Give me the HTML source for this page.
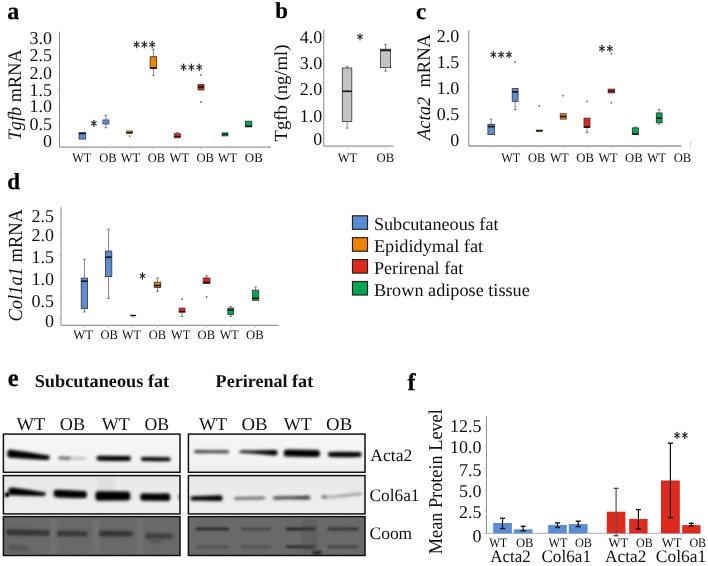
<!DOCTYPE html>
<html><head><meta charset="utf-8"><style>
html,body{margin:0;padding:0;background:#fff;}
svg{display:block;will-change:transform;}
text{font-family:"Liberation Serif",serif;text-rendering:geometricPrecision;}
</style></head><body>
<svg width="708" height="566" viewBox="0 0 708 566">
<defs>
<filter id="bl1" x="-20%" y="-100%" width="140%" height="300%"><feGaussianBlur stdDeviation="1.5"/></filter>
<filter id="bl2" x="-20%" y="-100%" width="140%" height="300%"><feGaussianBlur stdDeviation="0.9"/></filter>
<filter id="noise" x="0" y="0" width="100%" height="100%">
 <feTurbulence type="fractalNoise" baseFrequency="0.35 0.08" numOctaves="2" seed="3" result="n"/>
 <feColorMatrix type="matrix" values="0 0 0 0 0  0 0 0 0 0  0 0 0 0 0  0 0 0 0.22 0" in="n" result="n2"/>
 <feComposite in="n2" in2="SourceGraphic" operator="in"/>
</filter>
</defs>
<rect x="0" y="0" width="708" height="566" fill="#fff"/>

<text x="7.2" y="18.6" font-size="24" font-weight="bold" fill="#000" stroke="#000" stroke-width="0.25">a</text>
<text x="275.2" y="18.4" font-size="22.8" font-weight="bold" fill="#000" stroke="#000" stroke-width="0.25">b</text>
<text x="415.9" y="18.6" font-size="23" font-weight="bold" fill="#000" stroke="#000" stroke-width="0.25">c</text>
<text x="7.3" y="188.7" font-size="23" font-weight="bold" fill="#000" stroke="#000" stroke-width="0.25">d</text>
<text x="7.7" y="386.3" font-size="24.5" font-weight="bold" fill="#000" stroke="#000" stroke-width="0.25">e</text>
<text x="407.4" y="389.5" font-size="24" font-weight="bold" fill="#000" stroke="#000" stroke-width="0.25">f</text>
<line x1="59.5" y1="31.7" x2="59.5" y2="147.2" stroke="#8a8a8a" stroke-width="1"/>
<line x1="59.5" y1="147.2" x2="271" y2="147.2" stroke="#999" stroke-width="1.3"/>
<line x1="82" y1="147.2" x2="82" y2="149.5" stroke="#bbb" stroke-width="0.8"/>
<line x1="105.7" y1="147.2" x2="105.7" y2="149.5" stroke="#bbb" stroke-width="0.8"/>
<line x1="129.4" y1="147.2" x2="129.4" y2="149.5" stroke="#bbb" stroke-width="0.8"/>
<line x1="153.1" y1="147.2" x2="153.1" y2="149.5" stroke="#bbb" stroke-width="0.8"/>
<line x1="176.8" y1="147.2" x2="176.8" y2="149.5" stroke="#bbb" stroke-width="0.8"/>
<line x1="200.5" y1="147.2" x2="200.5" y2="149.5" stroke="#bbb" stroke-width="0.8"/>
<line x1="224.2" y1="147.2" x2="224.2" y2="149.5" stroke="#bbb" stroke-width="0.8"/>
<line x1="247.9" y1="147.2" x2="247.9" y2="149.5" stroke="#bbb" stroke-width="0.8"/>
<line x1="57.5" y1="38.8" x2="59.5" y2="38.8" stroke="#bbb" stroke-width="0.8"/>
<line x1="57.5" y1="55.7" x2="59.5" y2="55.7" stroke="#bbb" stroke-width="0.8"/>
<line x1="57.5" y1="72.6" x2="59.5" y2="72.6" stroke="#bbb" stroke-width="0.8"/>
<line x1="57.5" y1="89.5" x2="59.5" y2="89.5" stroke="#bbb" stroke-width="0.8"/>
<line x1="57.5" y1="106.4" x2="59.5" y2="106.4" stroke="#bbb" stroke-width="0.8"/>
<line x1="57.5" y1="123.3" x2="59.5" y2="123.3" stroke="#bbb" stroke-width="0.8"/>
<line x1="57.5" y1="140.2" x2="59.5" y2="140.2" stroke="#bbb" stroke-width="0.8"/>
<text x="52.0" y="44.4" font-size="18" text-anchor="end" font-weight="normal" font-style="normal" fill="#111" >3.0</text>
<text x="52.0" y="61.0" font-size="18" text-anchor="end" font-weight="normal" font-style="normal" fill="#111" >2.5</text>
<text x="52.0" y="79.2" font-size="18" text-anchor="end" font-weight="normal" font-style="normal" fill="#111" >2.0</text>
<text x="52.0" y="96.4" font-size="18" text-anchor="end" font-weight="normal" font-style="normal" fill="#111" >1.5</text>
<text x="52.0" y="112.4" font-size="18" text-anchor="end" font-weight="normal" font-style="normal" fill="#111" >1.0</text>
<text x="52.0" y="129.5" font-size="18" text-anchor="end" font-weight="normal" font-style="normal" fill="#111" >0.5</text>
<text x="52.0" y="147.0" font-size="18" text-anchor="end" font-weight="normal" font-style="normal" fill="#111" >0</text>
<text x="72.2" y="161.6" font-size="13" text-anchor="start" font-weight="normal" font-style="normal" fill="#111" textLength="19.0" lengthAdjust="spacingAndGlyphs" >WT</text>
<text x="99.2" y="161.6" font-size="13" text-anchor="start" font-weight="normal" font-style="normal" fill="#111" textLength="17.4" lengthAdjust="spacingAndGlyphs" >OB</text>
<text x="120.8" y="161.6" font-size="13" text-anchor="start" font-weight="normal" font-style="normal" fill="#111" textLength="19.3" lengthAdjust="spacingAndGlyphs" >WT</text>
<text x="147.8" y="161.6" font-size="13" text-anchor="start" font-weight="normal" font-style="normal" fill="#111" textLength="17.3" lengthAdjust="spacingAndGlyphs" >OB</text>
<text x="169.6" y="161.6" font-size="13" text-anchor="start" font-weight="normal" font-style="normal" fill="#111" textLength="19.5" lengthAdjust="spacingAndGlyphs" >WT</text>
<text x="196.5" y="161.6" font-size="13" text-anchor="start" font-weight="normal" font-style="normal" fill="#111" textLength="17.5" lengthAdjust="spacingAndGlyphs" >OB</text>
<text x="217.9" y="161.6" font-size="13" text-anchor="start" font-weight="normal" font-style="normal" fill="#111" textLength="19.1" lengthAdjust="spacingAndGlyphs" >WT</text>
<text x="244.8" y="161.6" font-size="13" text-anchor="start" font-weight="normal" font-style="normal" fill="#111" textLength="18.0" lengthAdjust="spacingAndGlyphs" >OB</text>
<g transform="translate(21.4,140.3) rotate(-90)"><text x="0" y="0" font-size="19" fill="#111" textLength="91" lengthAdjust="spacingAndGlyphs"><tspan font-style="italic">Tgfb</tspan> mRNA</text></g>
<rect x="79.0" y="132.8" width="6.7" height="6.3" fill="#5b8dd4" stroke="#333" stroke-width="0.8" />
<line x1="79" y1="133.4" x2="85.7" y2="133.4" stroke="#111" stroke-width="1.6"/>
<line x1="105.9" y1="115.2" x2="105.9" y2="119.9" stroke="#666" stroke-width="0.8"/>
<line x1="104.4" y1="115.2" x2="107.4" y2="115.2" stroke="#666" stroke-width="0.8"/>
<line x1="105.9" y1="124.1" x2="105.9" y2="127.7" stroke="#666" stroke-width="0.8"/>
<line x1="104.4" y1="127.7" x2="107.4" y2="127.7" stroke="#666" stroke-width="0.8"/>
<rect x="102.8" y="119.9" width="6.2" height="4.2" fill="#5b8dd4" stroke="#333" stroke-width="0.6" />
<rect x="126.6" y="130.9" width="6.0" height="2.5" fill="#f08200" stroke="#333" stroke-width="0.6" />
<line x1="126.6" y1="132.6" x2="132.6" y2="132.6" stroke="#111" stroke-width="1.2"/>
<circle cx="129.6" cy="136.1" r="0.9" fill="#666"/>
<line x1="153.39999999999998" y1="49.3" x2="153.39999999999998" y2="56.7" stroke="#666" stroke-width="0.8"/>
<line x1="151.89999999999998" y1="49.3" x2="154.89999999999998" y2="49.3" stroke="#666" stroke-width="0.8"/>
<line x1="153.39999999999998" y1="68.5" x2="153.39999999999998" y2="75.6" stroke="#666" stroke-width="0.8"/>
<line x1="151.89999999999998" y1="75.6" x2="154.89999999999998" y2="75.6" stroke="#666" stroke-width="0.8"/>
<rect x="150.1" y="56.7" width="6.6" height="11.8" fill="#f08200" stroke="#333" stroke-width="0.8" />
<line x1="150.1" y1="68.0" x2="156.7" y2="68.0" stroke="#111" stroke-width="1.6"/>
<line x1="177.3" y1="132.3" x2="177.3" y2="133.6" stroke="#666" stroke-width="0.8"/>
<line x1="175.8" y1="132.3" x2="178.8" y2="132.3" stroke="#666" stroke-width="0.8"/>
<rect x="174.1" y="133.6" width="6.4" height="4.3" fill="#de2a1e" stroke="#333" stroke-width="0.6" />
<line x1="174.1" y1="136.5" x2="180.5" y2="136.5" stroke="#111" stroke-width="1.2"/>
<rect x="198.0" y="84.4" width="6.0" height="5.6" fill="#de2a1e" stroke="#333" stroke-width="0.8" />
<line x1="198" y1="87" x2="204" y2="87" stroke="#111" stroke-width="1.6"/>
<circle cx="201.0" cy="74.9" r="0.9" fill="#666"/>
<circle cx="201.0" cy="102.0" r="0.9" fill="#666"/>
<rect x="222.0" y="132.8" width="6.0" height="3.2" fill="#00a650" stroke="#333" stroke-width="0.6" />
<line x1="222" y1="134.4" x2="228" y2="134.4" stroke="#111" stroke-width="1.2"/>
<rect x="245.5" y="121.2" width="6.3" height="5.6" fill="#00a650" stroke="#333" stroke-width="0.8" />
<line x1="245.5" y1="126.3" x2="251.8" y2="126.3" stroke="#111" stroke-width="1.6"/>
<line x1="93.90" y1="120.27" x2="93.90" y2="126.53" stroke="#2a2a2a" stroke-width="1.15" stroke-linecap="round"/>
<line x1="91.54" y1="121.84" x2="96.26" y2="124.96" stroke="#2a2a2a" stroke-width="1.15" stroke-linecap="round"/>
<line x1="96.26" y1="121.84" x2="91.54" y2="124.96" stroke="#2a2a2a" stroke-width="1.15" stroke-linecap="round"/>
<line x1="136.60" y1="41.37" x2="136.60" y2="47.63" stroke="#2a2a2a" stroke-width="1.15" stroke-linecap="round"/>
<line x1="134.24" y1="42.94" x2="138.96" y2="46.06" stroke="#2a2a2a" stroke-width="1.15" stroke-linecap="round"/>
<line x1="138.96" y1="42.94" x2="134.24" y2="46.06" stroke="#2a2a2a" stroke-width="1.15" stroke-linecap="round"/>
<line x1="144.40" y1="41.37" x2="144.40" y2="47.63" stroke="#2a2a2a" stroke-width="1.15" stroke-linecap="round"/>
<line x1="142.04" y1="42.94" x2="146.76" y2="46.06" stroke="#2a2a2a" stroke-width="1.15" stroke-linecap="round"/>
<line x1="146.76" y1="42.94" x2="142.04" y2="46.06" stroke="#2a2a2a" stroke-width="1.15" stroke-linecap="round"/>
<line x1="152.20" y1="41.37" x2="152.20" y2="47.63" stroke="#2a2a2a" stroke-width="1.15" stroke-linecap="round"/>
<line x1="149.84" y1="42.94" x2="154.56" y2="46.06" stroke="#2a2a2a" stroke-width="1.15" stroke-linecap="round"/>
<line x1="154.56" y1="42.94" x2="149.84" y2="46.06" stroke="#2a2a2a" stroke-width="1.15" stroke-linecap="round"/>
<line x1="183.60" y1="64.17" x2="183.60" y2="70.43" stroke="#2a2a2a" stroke-width="1.15" stroke-linecap="round"/>
<line x1="181.24" y1="65.74" x2="185.96" y2="68.86" stroke="#2a2a2a" stroke-width="1.15" stroke-linecap="round"/>
<line x1="185.96" y1="65.74" x2="181.24" y2="68.86" stroke="#2a2a2a" stroke-width="1.15" stroke-linecap="round"/>
<line x1="191.40" y1="64.17" x2="191.40" y2="70.43" stroke="#2a2a2a" stroke-width="1.15" stroke-linecap="round"/>
<line x1="189.04" y1="65.74" x2="193.76" y2="68.86" stroke="#2a2a2a" stroke-width="1.15" stroke-linecap="round"/>
<line x1="193.76" y1="65.74" x2="189.04" y2="68.86" stroke="#2a2a2a" stroke-width="1.15" stroke-linecap="round"/>
<line x1="199.20" y1="64.17" x2="199.20" y2="70.43" stroke="#2a2a2a" stroke-width="1.15" stroke-linecap="round"/>
<line x1="196.84" y1="65.74" x2="201.56" y2="68.86" stroke="#2a2a2a" stroke-width="1.15" stroke-linecap="round"/>
<line x1="201.56" y1="65.74" x2="196.84" y2="68.86" stroke="#2a2a2a" stroke-width="1.15" stroke-linecap="round"/>
<line x1="323.8" y1="29.4" x2="323.8" y2="146.2" stroke="#8a8a8a" stroke-width="1"/>
<line x1="323.8" y1="146.2" x2="393.7" y2="146.2" stroke="#999" stroke-width="1.3"/>
<line x1="347.3" y1="146.2" x2="347.3" y2="148.5" stroke="#bbb" stroke-width="0.8"/>
<line x1="385.3" y1="146.2" x2="385.3" y2="148.5" stroke="#bbb" stroke-width="0.8"/>
<text x="322.2" y="42.6" font-size="18" text-anchor="end" font-weight="normal" font-style="normal" fill="#111" >4.0</text>
<text x="322.2" y="69.2" font-size="18" text-anchor="end" font-weight="normal" font-style="normal" fill="#111" >3.0</text>
<text x="322.2" y="95.2" font-size="18" text-anchor="end" font-weight="normal" font-style="normal" fill="#111" >2.0</text>
<text x="322.2" y="122.3" font-size="18" text-anchor="end" font-weight="normal" font-style="normal" fill="#111" >1.0</text>
<text x="322.2" y="145.2" font-size="18" text-anchor="end" font-weight="normal" font-style="normal" fill="#111" >0</text>
<text x="337.7" y="161.8" font-size="13" text-anchor="start" font-weight="normal" font-style="normal" fill="#111" textLength="19.3" lengthAdjust="spacingAndGlyphs" >WT</text>
<text x="376.5" y="161.8" font-size="13" text-anchor="start" font-weight="normal" font-style="normal" fill="#111" textLength="17.7" lengthAdjust="spacingAndGlyphs" >OB</text>
<g transform="translate(287.2,141.5) rotate(-90)"><text x="0" y="0" font-size="18.5" fill="#111" textLength="97" lengthAdjust="spacingAndGlyphs">Tgfb (ng/ml)</text></g>
<line x1="347.05" y1="66.3" x2="347.05" y2="68" stroke="#666" stroke-width="0.8"/>
<line x1="345.55" y1="66.3" x2="348.55" y2="66.3" stroke="#666" stroke-width="0.8"/>
<line x1="347.05" y1="121.4" x2="347.05" y2="128.1" stroke="#666" stroke-width="0.8"/>
<line x1="345.55" y1="128.1" x2="348.55" y2="128.1" stroke="#666" stroke-width="0.8"/>
<rect x="342.3" y="68.0" width="9.5" height="53.4" fill="#c4c4c4" stroke="#333" stroke-width="0.8" />
<line x1="342.3" y1="91.3" x2="351.8" y2="91.3" stroke="#111" stroke-width="1.6"/>
<line x1="385.55" y1="44.3" x2="385.55" y2="49.2" stroke="#666" stroke-width="0.8"/>
<line x1="384.05" y1="44.3" x2="387.05" y2="44.3" stroke="#666" stroke-width="0.8"/>
<line x1="385.55" y1="67.6" x2="385.55" y2="71.1" stroke="#666" stroke-width="0.8"/>
<line x1="384.05" y1="71.1" x2="387.05" y2="71.1" stroke="#666" stroke-width="0.8"/>
<rect x="380.5" y="49.2" width="10.1" height="18.4" fill="#c4c4c4" stroke="#333" stroke-width="0.8" />
<line x1="380.5" y1="50.4" x2="390.6" y2="50.4" stroke="#111" stroke-width="1.6"/>
<line x1="360.00" y1="33.67" x2="360.00" y2="39.93" stroke="#2a2a2a" stroke-width="1.15" stroke-linecap="round"/>
<line x1="357.64" y1="35.24" x2="362.36" y2="38.36" stroke="#2a2a2a" stroke-width="1.15" stroke-linecap="round"/>
<line x1="362.36" y1="35.24" x2="357.64" y2="38.36" stroke="#2a2a2a" stroke-width="1.15" stroke-linecap="round"/>
<line x1="468.8" y1="30" x2="468.8" y2="146" stroke="#8a8a8a" stroke-width="1"/>
<line x1="468.8" y1="146" x2="681.4" y2="146" stroke="#999" stroke-width="1.3"/>
<line x1="491" y1="146" x2="491" y2="148.3" stroke="#bbb" stroke-width="0.8"/>
<line x1="515" y1="146" x2="515" y2="148.3" stroke="#bbb" stroke-width="0.8"/>
<line x1="539" y1="146" x2="539" y2="148.3" stroke="#bbb" stroke-width="0.8"/>
<line x1="563.1" y1="146" x2="563.1" y2="148.3" stroke="#bbb" stroke-width="0.8"/>
<line x1="587.1" y1="146" x2="587.1" y2="148.3" stroke="#bbb" stroke-width="0.8"/>
<line x1="611.1" y1="146" x2="611.1" y2="148.3" stroke="#bbb" stroke-width="0.8"/>
<line x1="634.9" y1="146" x2="634.9" y2="148.3" stroke="#bbb" stroke-width="0.8"/>
<line x1="658.9" y1="146" x2="658.9" y2="148.3" stroke="#bbb" stroke-width="0.8"/>
<line x1="466.8" y1="35.4" x2="468.8" y2="35.4" stroke="#bbb" stroke-width="0.8"/>
<line x1="466.8" y1="61.4" x2="468.8" y2="61.4" stroke="#bbb" stroke-width="0.8"/>
<line x1="466.8" y1="87.5" x2="468.8" y2="87.5" stroke="#bbb" stroke-width="0.8"/>
<line x1="466.8" y1="113.2" x2="468.8" y2="113.2" stroke="#bbb" stroke-width="0.8"/>
<line x1="466.8" y1="139.5" x2="468.8" y2="139.5" stroke="#bbb" stroke-width="0.8"/>
<line x1="690.6" y1="142.3" x2="690.6" y2="145.4" stroke="#bbb" stroke-width="0.8"/>
<text x="459.3" y="41.6" font-size="18" text-anchor="end" font-weight="normal" font-style="normal" fill="#111" >2.0</text>
<text x="459.3" y="67.8" font-size="18" text-anchor="end" font-weight="normal" font-style="normal" fill="#111" >1.5</text>
<text x="459.3" y="93.6" font-size="18" text-anchor="end" font-weight="normal" font-style="normal" fill="#111" >1.0</text>
<text x="459.3" y="119.8" font-size="18" text-anchor="end" font-weight="normal" font-style="normal" fill="#111" >0.5</text>
<text x="459.3" y="146.4" font-size="18" text-anchor="end" font-weight="normal" font-style="normal" fill="#111" >0</text>
<text x="501.2" y="161.7" font-size="13" text-anchor="start" font-weight="normal" font-style="normal" fill="#111" textLength="19.1" lengthAdjust="spacingAndGlyphs" >WT</text>
<text x="528.0" y="161.7" font-size="13" text-anchor="start" font-weight="normal" font-style="normal" fill="#111" textLength="17.3" lengthAdjust="spacingAndGlyphs" >OB</text>
<text x="549.9" y="161.7" font-size="13" text-anchor="start" font-weight="normal" font-style="normal" fill="#111" textLength="18.8" lengthAdjust="spacingAndGlyphs" >WT</text>
<text x="576.2" y="161.7" font-size="13" text-anchor="start" font-weight="normal" font-style="normal" fill="#111" textLength="17.7" lengthAdjust="spacingAndGlyphs" >OB</text>
<text x="598.4" y="161.7" font-size="13" text-anchor="start" font-weight="normal" font-style="normal" fill="#111" textLength="19.2" lengthAdjust="spacingAndGlyphs" >WT</text>
<text x="625.0" y="161.7" font-size="13" text-anchor="start" font-weight="normal" font-style="normal" fill="#111" textLength="17.6" lengthAdjust="spacingAndGlyphs" >OB</text>
<text x="647.3" y="161.7" font-size="13" text-anchor="start" font-weight="normal" font-style="normal" fill="#111" textLength="18.6" lengthAdjust="spacingAndGlyphs" >WT</text>
<text x="673.7" y="161.7" font-size="13" text-anchor="start" font-weight="normal" font-style="normal" fill="#111" textLength="17.6" lengthAdjust="spacingAndGlyphs" >OB</text>
<g transform="translate(429.8,140) rotate(-90)"><text x="0" y="0" font-size="19" fill="#111" textLength="106" lengthAdjust="spacingAndGlyphs"><tspan font-style="italic">Acta2</tspan>&#160; mRNA</text></g>
<line x1="491.15" y1="119.1" x2="491.15" y2="124.3" stroke="#666" stroke-width="0.8"/>
<line x1="489.65" y1="119.1" x2="492.65" y2="119.1" stroke="#666" stroke-width="0.8"/>
<rect x="487.9" y="124.3" width="6.5" height="10.3" fill="#5b8dd4" stroke="#333" stroke-width="0.8" />
<line x1="487.9" y1="126.6" x2="494.4" y2="126.6" stroke="#111" stroke-width="1.6"/>
<line x1="515.1500000000001" y1="101.3" x2="515.1500000000001" y2="109.6" stroke="#666" stroke-width="0.8"/>
<line x1="513.6500000000001" y1="109.6" x2="516.6500000000001" y2="109.6" stroke="#666" stroke-width="0.8"/>
<rect x="512.2" y="88.6" width="5.9" height="12.7" fill="#5b8dd4" stroke="#333" stroke-width="0.8" />
<line x1="512.2" y1="91.9" x2="518.1" y2="91.9" stroke="#111" stroke-width="1.6"/>
<circle cx="515.2" cy="62.2" r="0.9" fill="#666"/>
<rect x="536.2" y="130.0" width="6.2" height="1.6" fill="#f08200" stroke="#333" stroke-width="0.6" />
<line x1="536.2" y1="130.8" x2="542.4" y2="130.8" stroke="#111" stroke-width="1.2"/>
<circle cx="539.3" cy="106.0" r="0.9" fill="#666"/>
<rect x="560.2" y="113.7" width="6.0" height="5.4" fill="#f08200" stroke="#333" stroke-width="0.8" />
<line x1="560.2" y1="116.5" x2="566.2" y2="116.5" stroke="#111" stroke-width="1.6"/>
<circle cx="563.2" cy="95.7" r="0.9" fill="#666"/>
<line x1="587.0" y1="127.5" x2="587.0" y2="132.5" stroke="#666" stroke-width="0.8"/>
<line x1="585.5" y1="132.5" x2="588.5" y2="132.5" stroke="#666" stroke-width="0.8"/>
<rect x="584.0" y="118.1" width="6.0" height="9.4" fill="#de2a1e" stroke="#333" stroke-width="0.8" />
<line x1="584" y1="127.0" x2="590" y2="127.0" stroke="#111" stroke-width="1.6"/>
<circle cx="587.0" cy="101.3" r="0.9" fill="#666"/>
<rect x="608.0" y="89.0" width="6.8" height="4.0" fill="#de2a1e" stroke="#333" stroke-width="0.6" />
<line x1="608" y1="91.0" x2="614.8" y2="91.0" stroke="#111" stroke-width="1.2"/>
<circle cx="611.4" cy="53.7" r="0.9" fill="#666"/>
<circle cx="611.4" cy="102.7" r="0.9" fill="#666"/>
<line x1="635.3499999999999" y1="127.0" x2="635.3499999999999" y2="127.9" stroke="#666" stroke-width="0.8"/>
<line x1="633.8499999999999" y1="127.0" x2="636.8499999999999" y2="127.0" stroke="#666" stroke-width="0.8"/>
<rect x="632.3" y="127.9" width="6.1" height="6.6" fill="#00a650" stroke="#333" stroke-width="0.8" />
<line x1="632.3" y1="134.0" x2="638.4" y2="134.0" stroke="#111" stroke-width="1.6"/>
<line x1="659.2" y1="109.4" x2="659.2" y2="112.9" stroke="#666" stroke-width="0.8"/>
<line x1="657.7" y1="109.4" x2="660.7" y2="109.4" stroke="#666" stroke-width="0.8"/>
<line x1="659.2" y1="122.8" x2="659.2" y2="124.2" stroke="#666" stroke-width="0.8"/>
<line x1="657.7" y1="124.2" x2="660.7" y2="124.2" stroke="#666" stroke-width="0.8"/>
<rect x="656.3" y="112.9" width="5.8" height="9.9" fill="#00a650" stroke="#333" stroke-width="0.8" />
<line x1="656.3" y1="118.2" x2="662.1" y2="118.2" stroke="#111" stroke-width="1.6"/>
<line x1="493.40" y1="51.47" x2="493.40" y2="57.73" stroke="#2a2a2a" stroke-width="1.15" stroke-linecap="round"/>
<line x1="491.04" y1="53.04" x2="495.76" y2="56.16" stroke="#2a2a2a" stroke-width="1.15" stroke-linecap="round"/>
<line x1="495.76" y1="53.04" x2="491.04" y2="56.16" stroke="#2a2a2a" stroke-width="1.15" stroke-linecap="round"/>
<line x1="501.20" y1="51.47" x2="501.20" y2="57.73" stroke="#2a2a2a" stroke-width="1.15" stroke-linecap="round"/>
<line x1="498.84" y1="53.04" x2="503.56" y2="56.16" stroke="#2a2a2a" stroke-width="1.15" stroke-linecap="round"/>
<line x1="503.56" y1="53.04" x2="498.84" y2="56.16" stroke="#2a2a2a" stroke-width="1.15" stroke-linecap="round"/>
<line x1="509.00" y1="51.47" x2="509.00" y2="57.73" stroke="#2a2a2a" stroke-width="1.15" stroke-linecap="round"/>
<line x1="506.64" y1="53.04" x2="511.36" y2="56.16" stroke="#2a2a2a" stroke-width="1.15" stroke-linecap="round"/>
<line x1="511.36" y1="53.04" x2="506.64" y2="56.16" stroke="#2a2a2a" stroke-width="1.15" stroke-linecap="round"/>
<line x1="602.00" y1="45.37" x2="602.00" y2="51.63" stroke="#2a2a2a" stroke-width="1.15" stroke-linecap="round"/>
<line x1="599.64" y1="46.94" x2="604.36" y2="50.06" stroke="#2a2a2a" stroke-width="1.15" stroke-linecap="round"/>
<line x1="604.36" y1="46.94" x2="599.64" y2="50.06" stroke="#2a2a2a" stroke-width="1.15" stroke-linecap="round"/>
<line x1="609.80" y1="45.37" x2="609.80" y2="51.63" stroke="#2a2a2a" stroke-width="1.15" stroke-linecap="round"/>
<line x1="607.44" y1="46.94" x2="612.16" y2="50.06" stroke="#2a2a2a" stroke-width="1.15" stroke-linecap="round"/>
<line x1="612.16" y1="46.94" x2="607.44" y2="50.06" stroke="#2a2a2a" stroke-width="1.15" stroke-linecap="round"/>
<line x1="61" y1="207.1" x2="61" y2="325.3" stroke="#8a8a8a" stroke-width="1"/>
<line x1="61" y1="325.3" x2="278.3" y2="325.3" stroke="#999" stroke-width="1.3"/>
<line x1="84" y1="325.3" x2="84" y2="327.6" stroke="#bbb" stroke-width="0.8"/>
<line x1="108.5" y1="325.3" x2="108.5" y2="327.6" stroke="#bbb" stroke-width="0.8"/>
<line x1="133" y1="325.3" x2="133" y2="327.6" stroke="#bbb" stroke-width="0.8"/>
<line x1="157.5" y1="325.3" x2="157.5" y2="327.6" stroke="#bbb" stroke-width="0.8"/>
<line x1="182" y1="325.3" x2="182" y2="327.6" stroke="#bbb" stroke-width="0.8"/>
<line x1="206.5" y1="325.3" x2="206.5" y2="327.6" stroke="#bbb" stroke-width="0.8"/>
<line x1="231" y1="325.3" x2="231" y2="327.6" stroke="#bbb" stroke-width="0.8"/>
<line x1="255.5" y1="325.3" x2="255.5" y2="327.6" stroke="#bbb" stroke-width="0.8"/>
<line x1="59" y1="212.6" x2="61" y2="212.6" stroke="#bbb" stroke-width="0.8"/>
<line x1="59" y1="234.3" x2="61" y2="234.3" stroke="#bbb" stroke-width="0.8"/>
<line x1="59" y1="255.3" x2="61" y2="255.3" stroke="#bbb" stroke-width="0.8"/>
<line x1="59" y1="277.0" x2="61" y2="277.0" stroke="#bbb" stroke-width="0.8"/>
<line x1="59" y1="298.4" x2="61" y2="298.4" stroke="#bbb" stroke-width="0.8"/>
<line x1="59" y1="319.4" x2="61" y2="319.4" stroke="#bbb" stroke-width="0.8"/>
<text x="53.9" y="221.6" font-size="18" text-anchor="end" font-weight="normal" font-style="normal" fill="#111" >2.5</text>
<text x="53.9" y="241.0" font-size="18" text-anchor="end" font-weight="normal" font-style="normal" fill="#111" >2.0</text>
<text x="53.9" y="263.0" font-size="18" text-anchor="end" font-weight="normal" font-style="normal" fill="#111" >1.5</text>
<text x="53.9" y="284.8" font-size="18" text-anchor="end" font-weight="normal" font-style="normal" fill="#111" >1.0</text>
<text x="53.9" y="306.9" font-size="18" text-anchor="end" font-weight="normal" font-style="normal" fill="#111" >0.5</text>
<text x="53.9" y="326.7" font-size="18" text-anchor="end" font-weight="normal" font-style="normal" fill="#111" >0</text>
<text x="73.2" y="339.0" font-size="13" text-anchor="start" font-weight="normal" font-style="normal" fill="#111" textLength="19.7" lengthAdjust="spacingAndGlyphs" >WT</text>
<text x="100.5" y="339.0" font-size="13" text-anchor="start" font-weight="normal" font-style="normal" fill="#111" textLength="17.4" lengthAdjust="spacingAndGlyphs" >OB</text>
<text x="122.1" y="339.0" font-size="13" text-anchor="start" font-weight="normal" font-style="normal" fill="#111" textLength="18.9" lengthAdjust="spacingAndGlyphs" >WT</text>
<text x="148.8" y="339.0" font-size="13" text-anchor="start" font-weight="normal" font-style="normal" fill="#111" textLength="17.4" lengthAdjust="spacingAndGlyphs" >OB</text>
<text x="171.0" y="339.0" font-size="13" text-anchor="start" font-weight="normal" font-style="normal" fill="#111" textLength="19.2" lengthAdjust="spacingAndGlyphs" >WT</text>
<text x="197.6" y="339.0" font-size="13" text-anchor="start" font-weight="normal" font-style="normal" fill="#111" textLength="17.5" lengthAdjust="spacingAndGlyphs" >OB</text>
<text x="219.7" y="339.0" font-size="13" text-anchor="start" font-weight="normal" font-style="normal" fill="#111" textLength="19.1" lengthAdjust="spacingAndGlyphs" >WT</text>
<text x="246.1" y="339.0" font-size="13" text-anchor="start" font-weight="normal" font-style="normal" fill="#111" textLength="17.6" lengthAdjust="spacingAndGlyphs" >OB</text>
<g transform="translate(21.6,321.5) rotate(-90)"><text x="0" y="0" font-size="20" fill="#111" textLength="112.5" lengthAdjust="spacingAndGlyphs"><tspan font-style="italic">Col1a1</tspan> mRNA</text></g>
<line x1="84.4" y1="259.3" x2="84.4" y2="278.1" stroke="#666" stroke-width="0.8"/>
<line x1="82.9" y1="259.3" x2="85.9" y2="259.3" stroke="#666" stroke-width="0.8"/>
<line x1="84.4" y1="308.4" x2="84.4" y2="312" stroke="#666" stroke-width="0.8"/>
<line x1="82.9" y1="312" x2="85.9" y2="312" stroke="#666" stroke-width="0.8"/>
<rect x="81.2" y="278.1" width="6.4" height="30.3" fill="#5b8dd4" stroke="#333" stroke-width="0.8" />
<line x1="81.2" y1="281.2" x2="87.6" y2="281.2" stroke="#111" stroke-width="1.6"/>
<line x1="108.6" y1="229.2" x2="108.6" y2="251.1" stroke="#666" stroke-width="0.8"/>
<line x1="107.1" y1="229.2" x2="110.1" y2="229.2" stroke="#666" stroke-width="0.8"/>
<line x1="108.6" y1="276.6" x2="108.6" y2="298.4" stroke="#666" stroke-width="0.8"/>
<line x1="107.1" y1="298.4" x2="110.1" y2="298.4" stroke="#666" stroke-width="0.8"/>
<rect x="105.4" y="251.1" width="6.4" height="25.5" fill="#5b8dd4" stroke="#333" stroke-width="0.8" />
<line x1="105.4" y1="257.2" x2="111.8" y2="257.2" stroke="#111" stroke-width="1.6"/>
<line x1="130.3" y1="315.5" x2="136.1" y2="315.5" stroke="#111" stroke-width="1.5"/>
<circle cx="133.2" cy="317.2" r="0.7" fill="#777"/>
<line x1="157.5" y1="278.1" x2="157.5" y2="282.2" stroke="#666" stroke-width="0.8"/>
<line x1="156.0" y1="278.1" x2="159.0" y2="278.1" stroke="#666" stroke-width="0.8"/>
<line x1="157.5" y1="287.5" x2="157.5" y2="291.4" stroke="#666" stroke-width="0.8"/>
<line x1="156.0" y1="291.4" x2="159.0" y2="291.4" stroke="#666" stroke-width="0.8"/>
<rect x="154.2" y="282.2" width="6.6" height="5.3" fill="#f08200" stroke="#333" stroke-width="0.8" />
<line x1="154.2" y1="285.5" x2="160.8" y2="285.5" stroke="#111" stroke-width="1.6"/>
<line x1="182.05" y1="312.4" x2="182.05" y2="316.4" stroke="#666" stroke-width="0.8"/>
<line x1="180.55" y1="316.4" x2="183.55" y2="316.4" stroke="#666" stroke-width="0.8"/>
<rect x="179.0" y="308.0" width="6.1" height="4.4" fill="#de2a1e" stroke="#333" stroke-width="0.6" />
<line x1="179" y1="311.5" x2="185.1" y2="311.5" stroke="#111" stroke-width="1.2"/>
<circle cx="182.1" cy="299.2" r="0.9" fill="#666"/>
<line x1="206.6" y1="275.9" x2="206.6" y2="278" stroke="#666" stroke-width="0.8"/>
<line x1="205.1" y1="275.9" x2="208.1" y2="275.9" stroke="#666" stroke-width="0.8"/>
<rect x="203.2" y="278.0" width="6.8" height="5.4" fill="#de2a1e" stroke="#333" stroke-width="0.8" />
<line x1="203.2" y1="282.5" x2="210" y2="282.5" stroke="#111" stroke-width="1.6"/>
<circle cx="206.6" cy="297.0" r="0.9" fill="#666"/>
<line x1="230.75" y1="306.4" x2="230.75" y2="308.1" stroke="#666" stroke-width="0.8"/>
<line x1="229.25" y1="306.4" x2="232.25" y2="306.4" stroke="#666" stroke-width="0.8"/>
<line x1="230.75" y1="314.4" x2="230.75" y2="316.4" stroke="#666" stroke-width="0.8"/>
<line x1="229.25" y1="316.4" x2="232.25" y2="316.4" stroke="#666" stroke-width="0.8"/>
<rect x="227.8" y="308.1" width="5.9" height="6.3" fill="#00a650" stroke="#333" stroke-width="0.8" />
<line x1="227.8" y1="310.2" x2="233.7" y2="310.2" stroke="#111" stroke-width="1.6"/>
<line x1="255.60000000000002" y1="287" x2="255.60000000000002" y2="290.2" stroke="#666" stroke-width="0.8"/>
<line x1="254.10000000000002" y1="287" x2="257.1" y2="287" stroke="#666" stroke-width="0.8"/>
<rect x="252.4" y="290.2" width="6.4" height="10.1" fill="#00a650" stroke="#333" stroke-width="0.8" />
<line x1="252.4" y1="298.3" x2="258.8" y2="298.3" stroke="#111" stroke-width="1.6"/>
<line x1="142.50" y1="272.67" x2="142.50" y2="278.93" stroke="#2a2a2a" stroke-width="1.15" stroke-linecap="round"/>
<line x1="140.14" y1="274.24" x2="144.86" y2="277.36" stroke="#2a2a2a" stroke-width="1.15" stroke-linecap="round"/>
<line x1="144.86" y1="274.24" x2="140.14" y2="277.36" stroke="#2a2a2a" stroke-width="1.15" stroke-linecap="round"/>
<rect x="352.5" y="215.8" width="15.0" height="13.5" fill="#5b8dd4" stroke="#222" stroke-width="1.2" />
<text x="373.9" y="230.4" font-size="18" text-anchor="start" font-weight="normal" font-style="normal" fill="#111" textLength="124.6" lengthAdjust="spacingAndGlyphs" >Subcutaneous fat</text>
<rect x="352.5" y="237.7" width="15.0" height="13.5" fill="#f08200" stroke="#222" stroke-width="1.2" />
<text x="373.9" y="252.3" font-size="18" text-anchor="start" font-weight="normal" font-style="normal" fill="#111" textLength="109.3" lengthAdjust="spacingAndGlyphs" >Epididymal fat</text>
<rect x="352.5" y="259.6" width="15.0" height="13.5" fill="#de2a1e" stroke="#222" stroke-width="1.2" />
<text x="373.9" y="274.2" font-size="18" text-anchor="start" font-weight="normal" font-style="normal" fill="#111" textLength="89.5" lengthAdjust="spacingAndGlyphs" >Perirenal fat</text>
<rect x="352.5" y="281.5" width="15.0" height="13.5" fill="#00a650" stroke="#222" stroke-width="1.2" />
<text x="373.9" y="296.1" font-size="18" text-anchor="start" font-weight="normal" font-style="normal" fill="#111" textLength="155.9" lengthAdjust="spacingAndGlyphs" >Brown adipose tissue</text>
<text x="34.7" y="387.4" font-size="18" text-anchor="start" font-weight="bold" font-style="normal" fill="#111" textLength="134.5" lengthAdjust="spacingAndGlyphs" >Subcutaneous fat</text>
<text x="215.6" y="387.4" font-size="18" text-anchor="start" font-weight="bold" font-style="normal" fill="#111" textLength="97.6" lengthAdjust="spacingAndGlyphs" >Perirenal fat</text>
<text x="16.5" y="429.6" font-size="18" text-anchor="start" font-weight="normal" font-style="normal" fill="#111" textLength="28.8" lengthAdjust="spacingAndGlyphs" >WT</text>
<text x="59.8" y="429.6" font-size="18" text-anchor="start" font-weight="normal" font-style="normal" fill="#111" textLength="25.4" lengthAdjust="spacingAndGlyphs" >OB</text>
<text x="101.7" y="429.6" font-size="18" text-anchor="start" font-weight="normal" font-style="normal" fill="#111" textLength="28.0" lengthAdjust="spacingAndGlyphs" >WT</text>
<text x="144.4" y="429.6" font-size="18" text-anchor="start" font-weight="normal" font-style="normal" fill="#111" textLength="24.7" lengthAdjust="spacingAndGlyphs" >OB</text>
<text x="199.0" y="429.6" font-size="18" text-anchor="start" font-weight="normal" font-style="normal" fill="#111" textLength="28" lengthAdjust="spacingAndGlyphs" >WT</text>
<text x="241.4" y="429.6" font-size="18" text-anchor="start" font-weight="normal" font-style="normal" fill="#111" textLength="26.2" lengthAdjust="spacingAndGlyphs" >OB</text>
<text x="283.7" y="429.6" font-size="18" text-anchor="start" font-weight="normal" font-style="normal" fill="#111" textLength="27.9" lengthAdjust="spacingAndGlyphs" >WT</text>
<text x="326.1" y="429.6" font-size="18" text-anchor="start" font-weight="normal" font-style="normal" fill="#111" textLength="26.2" lengthAdjust="spacingAndGlyphs" >OB</text>
<text x="370.3" y="460.8" font-size="17.5" text-anchor="start" font-weight="normal" font-style="normal" fill="#111" textLength="41.9" lengthAdjust="spacingAndGlyphs" >Acta2</text>
<text x="369.5" y="501.2" font-size="17.5" text-anchor="start" font-weight="normal" font-style="normal" fill="#111" textLength="50.0" lengthAdjust="spacingAndGlyphs" >Col6a1</text>
<text x="369.5" y="539.1" font-size="17.5" text-anchor="start" font-weight="normal" font-style="normal" fill="#111" textLength="42.7" lengthAdjust="spacingAndGlyphs" >Coom</text>
<defs><linearGradient id="gA" x1="0" y1="0" x2="0" y2="1"><stop offset="0" stop-color="#f6f6f6"/><stop offset="0.7" stop-color="#f3f3f3"/><stop offset="1" stop-color="#ececec"/></linearGradient><linearGradient id="gB" x1="0" y1="0" x2="0" y2="1"><stop offset="0" stop-color="#e8e8e8"/><stop offset="1" stop-color="#efefef"/></linearGradient><pattern id="hatch" width="3" height="3" patternUnits="userSpaceOnUse" patternTransform="rotate(-50)"><rect width="3" height="3" fill="#6c6c6c"/><rect width="1.2" height="3" fill="#656565"/></pattern><filter id="bl3" x="-20%" y="-100%" width="140%" height="300%"><feGaussianBlur stdDeviation="1.6"/></filter></defs>
<rect x="3.4" y="434.1" width="176.6" height="38.2" fill="url(#gA)" stroke="none" stroke-width="0" />
<rect x="3.4" y="475.6" width="176.6" height="38.3" fill="url(#gB)" stroke="none" stroke-width="0" />
<rect x="3.4" y="516.6" width="176.6" height="38.9" fill="url(#hatch)" stroke="none" stroke-width="0" />
<rect x="188.4" y="434.1" width="176.6" height="38.2" fill="url(#gA)" stroke="none" stroke-width="0" />
<rect x="188.4" y="475.6" width="176.6" height="38.3" fill="url(#gB)" stroke="none" stroke-width="0" />
<rect x="188.4" y="516.6" width="176.6" height="38.9" fill="url(#hatch)" stroke="none" stroke-width="0" />
<g filter="url(#bl3)" opacity="0.5">
<rect x="97.0" y="476.0" width="18.0" height="20.0" fill="#d8d8d8" stroke="none" stroke-width="0" />
</g>
<path d="M7.2,453.8 C7.2,449.8 9.2,449.8 11.2,449.8 Q28.5,452.1 45.7,454.9 C47.7,454.9 49.7,454.9 49.7,457.4 C49.7,459.9 47.7,459.9 45.7,459.9 Q28.5,459.1 11.2,457.8 C9.2,457.8 7.2,457.8 7.2,453.8 Z" fill="#000" opacity="1.0" filter="url(#bl1)"/>
<path d="M58.4,458.0 C58.4,456.6 59.9,456.6 61.3,456.6 Q64.2,456.8 67.1,457.0 C68.5,457.0 70.0,457.0 70.0,458.2 C70.0,459.4 68.5,459.4 67.1,459.4 Q64.2,459.4 61.3,459.4 C59.9,459.4 58.4,459.4 58.4,458.0 Z" fill="#222" opacity="0.75" filter="url(#bl1)"/>
<path d="M66.0,458.2 C66.0,457.2 68.0,457.2 70.0,457.2 Q76.0,457.3 82.0,457.5 C84.0,457.5 86.0,457.5 86.0,458.4 C86.0,459.3 84.0,459.3 82.0,459.3 Q76.0,459.2 70.0,459.2 C68.0,459.2 66.0,459.2 66.0,458.2 Z" fill="#555" opacity="0.5" filter="url(#bl1)"/>
<path d="M96.6,458.2 C96.6,455.7 98.6,455.7 100.6,455.7 Q113.8,455.6 126.9,456.1 C128.9,456.1 130.9,456.1 130.9,458.6 C130.9,461.1 128.9,461.1 126.9,461.1 Q113.8,461.2 100.6,460.7 C98.6,460.7 96.6,460.7 96.6,458.2 Z" fill="#000" opacity="1.0" filter="url(#bl1)"/>
<path d="M140.8,459.0 C140.8,457.0 142.8,457.0 144.8,457.0 Q155.8,456.9 166.7,457.3 C168.7,457.3 170.7,457.3 170.7,459.3 C170.7,461.3 168.7,461.3 166.7,461.3 Q155.8,461.3 144.8,461.0 C142.8,461.0 140.8,461.0 140.8,459.0 Z" fill="#000" opacity="1.0" filter="url(#bl1)"/>
<path d="M8.3,491.4 C8.3,487.6 10.3,487.6 12.3,487.6 Q27.1,489.4 42.0,492.1 C44.0,492.1 46.0,492.1 46.0,494.0 C46.0,495.9 44.0,495.9 42.0,495.9 Q27.1,496.0 12.3,495.2 C10.3,495.2 8.3,495.2 8.3,491.4 Z" fill="#000" opacity="1.0" filter="url(#bl1)"/>
<path d="M4.6,494.8 C4.6,492.5 5.2,492.5 5.8,492.5 Q7.0,492.5 8.3,492.5 C8.9,492.5 9.5,492.5 9.5,494.8 C9.5,497.1 8.9,497.1 8.3,497.1 Q7.0,497.1 5.8,497.1 C5.2,497.1 4.6,497.1 4.6,494.8 Z" fill="#000" opacity="1.0" filter="url(#bl2)"/>
<path d="M53.6,493.6 C53.6,489.8 55.6,489.8 57.6,489.8 Q70.3,490.2 83.0,491.0 C85.0,491.0 87.0,491.0 87.0,494.6 C87.0,498.2 85.0,498.2 83.0,498.2 Q70.3,498.0 57.6,497.4 C55.6,497.4 53.6,497.4 53.6,493.6 Z" fill="#000" opacity="1.0" filter="url(#bl1)"/>
<path d="M95.3,496.0 C95.3,491.2 97.3,491.2 99.3,491.2 Q112.8,491.3 126.4,491.4 C128.4,491.4 130.4,491.4 130.4,496.0 C130.4,500.6 128.4,500.6 126.4,500.6 Q112.8,500.7 99.3,500.8 C97.3,500.8 95.3,500.8 95.3,496.0 Z" fill="#000" opacity="1.0" filter="url(#bl1)"/>
<path d="M140.2,497.0 C140.2,493.2 142.2,493.2 144.2,493.2 Q155.2,493.6 166.3,493.3 C168.3,493.3 170.3,493.3 170.3,497.2 C170.3,501.1 168.3,501.1 166.3,501.1 Q155.2,500.6 144.2,500.8 C142.2,500.8 140.2,500.8 140.2,497.0 Z" fill="#000" opacity="1.0" filter="url(#bl1)"/>
<path d="M177.5,497.0 C177.5,495.0 177.8,495.0 178.1,495.0 Q178.8,495.0 179.4,495.0 C179.7,495.0 180.0,495.0 180.0,497.0 C180.0,499.0 179.7,499.0 179.4,499.0 Q178.8,499.0 178.1,499.0 C177.8,499.0 177.5,499.0 177.5,497.0 Z" fill="#222" opacity="0.7" filter="url(#bl1)"/>
<path d="M193.7,451.6 C193.7,450.0 195.7,450.0 197.7,450.0 Q211.5,450.5 225.3,450.3 C227.3,450.3 229.3,450.3 229.3,451.8 C229.3,453.3 227.3,453.3 225.3,453.3 Q211.5,452.9 197.7,453.2 C195.7,453.2 193.7,453.2 193.7,451.6 Z" fill="#222" opacity="0.9" filter="url(#bl1)"/>
<path d="M239.4,451.7 C239.4,450.4 241.4,450.4 243.4,450.4 Q258.5,450.6 273.6,450.1 C275.6,450.1 277.6,450.1 277.6,452.8 C277.6,455.5 275.6,455.5 273.6,455.5 Q258.5,453.9 243.4,453.0 C241.4,453.0 239.4,453.0 239.4,451.7 Z" fill="#000" opacity="1.0" filter="url(#bl1)"/>
<path d="M283.7,453.0 C283.7,449.4 285.7,449.4 287.7,449.4 Q301.9,449.3 316.0,449.9 C318.0,449.9 320.0,449.9 320.0,453.4 C320.0,456.9 318.0,456.9 316.0,456.9 Q301.9,457.1 287.7,456.6 C285.7,456.6 283.7,456.6 283.7,453.0 Z" fill="#000" opacity="1.0" filter="url(#bl1)"/>
<path d="M328.0,454.4 C328.0,451.9 330.0,451.9 332.0,451.9 Q344.8,451.8 357.6,452.1 C359.6,452.1 361.6,452.1 361.6,454.6 C361.6,457.1 359.6,457.1 357.6,457.1 Q344.8,457.2 332.0,456.9 C330.0,456.9 328.0,456.9 328.0,454.4 Z" fill="#000" opacity="1.0" filter="url(#bl1)"/>
<path d="M190.4,498.4 C190.4,496.2 192.4,496.2 194.4,496.2 Q206.5,495.9 218.6,495.3 C220.6,495.3 222.6,495.3 222.6,498.2 C222.6,501.1 220.6,501.1 218.6,501.1 Q206.5,500.7 194.4,500.6 C192.4,500.6 190.4,500.6 190.4,498.4 Z" fill="#000" opacity="1.0" filter="url(#bl1)"/>
<path d="M234.0,498.5 C234.0,497.2 236.0,497.2 238.0,497.2 Q249.8,497.0 261.5,496.8 C263.5,496.8 265.5,496.8 265.5,498.0 C265.5,499.2 263.5,499.2 261.5,499.2 Q249.8,499.5 238.0,499.8 C236.0,499.8 234.0,499.8 234.0,498.5 Z" fill="#444" opacity="0.9" filter="url(#bl1)"/>
<path d="M272.9,498.0 C272.9,496.6 274.9,496.6 276.9,496.6 Q291.8,496.3 306.6,495.7 C308.6,495.7 310.6,495.7 310.6,497.6 C310.6,499.5 308.6,499.5 306.6,499.5 Q291.8,499.3 276.9,499.4 C274.9,499.4 272.9,499.4 272.9,498.0 Z" fill="#222" opacity="0.9" filter="url(#bl1)"/>
<path d="M321.3,497.0 C321.3,495.7 322.0,495.7 322.7,495.7 Q324.1,495.8 325.6,495.8 C326.3,495.8 327.0,495.8 327.0,497.0 C327.0,498.2 326.3,498.2 325.6,498.2 Q324.1,498.2 322.7,498.3 C322.0,498.3 321.3,498.3 321.3,497.0 Z" fill="#333" opacity="0.8" filter="url(#bl1)"/>
<path d="M325.0,497.2 C325.0,496.3 327.0,496.3 329.0,496.3 Q343.6,494.6 358.2,492.8 C360.2,492.8 362.2,492.8 362.2,494.0 C362.2,495.2 360.2,495.2 358.2,495.2 Q343.6,496.7 329.0,498.1 C327.0,498.1 325.0,498.1 325.0,497.2 Z" fill="#666" opacity="0.7" filter="url(#bl1)"/>
<g filter="url(#bl3)" opacity="0.22">
<rect x="50.0" y="518.0" width="7.0" height="36.0" fill="#8a8a8a" stroke="none" stroke-width="0" />
<rect x="93.0" y="518.0" width="7.0" height="36.0" fill="#8a8a8a" stroke="none" stroke-width="0" />
<rect x="137.0" y="518.0" width="7.0" height="36.0" fill="#8a8a8a" stroke="none" stroke-width="0" />
</g>
<path d="M6.0,532.2 C6.0,529.2 8.0,529.2 10.0,529.2 Q28.0,529.7 46.0,530.2 C48.0,530.2 50.0,530.2 50.0,533.0 C50.0,535.8 48.0,535.8 46.0,535.8 Q28.0,535.5 10.0,535.2 C8.0,535.2 6.0,535.2 6.0,532.2 Z" fill="#2a2a2a" opacity="0.85" filter="url(#bl1)"/>
<path d="M57.0,533.4 C57.0,530.4 59.0,530.4 61.0,530.4 Q72.5,530.7 84.0,531.0 C86.0,531.0 88.0,531.0 88.0,533.8 C88.0,536.5 86.0,536.5 84.0,536.5 Q72.5,536.5 61.0,536.4 C59.0,536.4 57.0,536.4 57.0,533.4 Z" fill="#2a2a2a" opacity="0.75" filter="url(#bl1)"/>
<path d="M99.0,533.4 C99.0,530.4 101.0,530.4 103.0,530.4 Q116.0,530.7 129.0,531.0 C131.0,531.0 133.0,531.0 133.0,533.8 C133.0,536.5 131.0,536.5 129.0,536.5 Q116.0,536.5 103.0,536.4 C101.0,536.4 99.0,536.4 99.0,533.4 Z" fill="#2a2a2a" opacity="0.85" filter="url(#bl1)"/>
<path d="M145.0,536.0 C145.0,533.0 147.0,533.0 149.0,533.0 Q159.0,533.3 169.0,533.6 C171.0,533.6 173.0,533.6 173.0,536.4 C173.0,539.1 171.0,539.1 169.0,539.1 Q159.0,539.1 149.0,539.0 C147.0,539.0 145.0,539.0 145.0,536.0 Z" fill="#2a2a2a" opacity="0.65" filter="url(#bl1)"/>
<path d="M8.0,547.0 C8.0,544.0 10.0,544.0 12.0,544.0 Q19.0,545.5 26.0,547.0 C28.0,547.0 30.0,547.0 30.0,549.0 C30.0,551.0 28.0,551.0 26.0,551.0 Q19.0,550.5 12.0,550.0 C10.0,550.0 8.0,550.0 8.0,547.0 Z" fill="#333" opacity="0.35" filter="url(#bl1)"/>
<path d="M150.0,541.0 C150.0,539.0 151.5,539.0 153.0,539.0 Q156.0,539.8 159.0,540.5 C160.5,540.5 162.0,540.5 162.0,542.0 C162.0,543.5 160.5,543.5 159.0,543.5 Q156.0,543.2 153.0,543.0 C151.5,543.0 150.0,543.0 150.0,541.0 Z" fill="#333" opacity="0.4" filter="url(#bl1)"/>
<path d="M195.5,529.0 C195.5,527.6 197.5,527.6 199.5,527.6 Q212.4,527.6 225.4,527.6 C227.4,527.6 229.4,527.6 229.4,529.0 C229.4,530.4 227.4,530.4 225.4,530.4 Q212.4,530.4 199.5,530.4 C197.5,530.4 195.5,530.4 195.5,529.0 Z" fill="#222" opacity="0.9" filter="url(#bl2)"/>
<path d="M241.2,529.0 C241.2,527.6 243.2,527.6 245.2,527.6 Q256.2,527.6 267.2,527.6 C269.2,527.6 271.2,527.6 271.2,529.0 C271.2,530.4 269.2,530.4 267.2,530.4 Q256.2,530.4 245.2,530.4 C243.2,530.4 241.2,530.4 241.2,529.0 Z" fill="#222" opacity="0.45" filter="url(#bl2)"/>
<path d="M285.6,529.0 C285.6,527.6 287.6,527.6 289.6,527.6 Q300.6,527.6 311.6,527.6 C313.6,527.6 315.6,527.6 315.6,529.0 C315.6,530.4 313.6,530.4 311.6,530.4 Q300.6,530.4 289.6,530.4 C287.6,530.4 285.6,530.4 285.6,529.0 Z" fill="#222" opacity="0.95" filter="url(#bl2)"/>
<path d="M327.4,529.0 C327.4,527.6 329.4,527.6 331.4,527.6 Q343.1,527.6 354.8,527.6 C356.8,527.6 358.8,527.6 358.8,529.0 C358.8,530.4 356.8,530.4 354.8,530.4 Q343.1,530.4 331.4,530.4 C329.4,530.4 327.4,530.4 327.4,529.0 Z" fill="#222" opacity="0.75" filter="url(#bl2)"/>
<path d="M195.5,546.8 C195.5,545.5 197.5,545.5 199.5,545.5 Q212.4,545.5 225.4,545.5 C227.4,545.5 229.4,545.5 229.4,546.8 C229.4,548.1 227.4,548.1 225.4,548.1 Q212.4,548.1 199.5,548.1 C197.5,548.1 195.5,548.1 195.5,546.8 Z" fill="#222" opacity="0.3" filter="url(#bl2)"/>
<path d="M241.2,546.8 C241.2,545.5 243.2,545.5 245.2,545.5 Q256.2,545.5 267.2,545.5 C269.2,545.5 271.2,545.5 271.2,546.8 C271.2,548.1 269.2,548.1 267.2,548.1 Q256.2,548.1 245.2,548.1 C243.2,548.1 241.2,548.1 241.2,546.8 Z" fill="#222" opacity="0.35" filter="url(#bl2)"/>
<path d="M285.6,546.8 C285.6,545.5 287.6,545.5 289.6,545.5 Q300.6,545.5 311.6,545.5 C313.6,545.5 315.6,545.5 315.6,546.8 C315.6,548.1 313.6,548.1 311.6,548.1 Q300.6,548.1 289.6,548.1 C287.6,548.1 285.6,548.1 285.6,546.8 Z" fill="#222" opacity="0.9" filter="url(#bl2)"/>
<path d="M327.4,546.8 C327.4,545.5 329.4,545.5 331.4,545.5 Q343.1,545.5 354.8,545.5 C356.8,545.5 358.8,545.5 358.8,546.8 C358.8,548.1 356.8,548.1 354.8,548.1 Q343.1,548.1 331.4,548.1 C329.4,548.1 327.4,548.1 327.4,546.8 Z" fill="#222" opacity="0.55" filter="url(#bl2)"/>
<path d="M312.0,552.5 C312.0,551.0 313.2,551.0 314.5,551.0 Q317.0,551.0 319.5,551.0 C320.8,551.0 322.0,551.0 322.0,552.5 C322.0,554.0 320.8,554.0 319.5,554.0 Q317.0,554.0 314.5,554.0 C313.2,554.0 312.0,554.0 312.0,552.5 Z" fill="#111" opacity="0.8" filter="url(#bl2)"/>
<g filter="url(#bl3)">
<rect x="302.0" y="520.0" width="16.0" height="32.0" fill="#4a4a4a" stroke="none" stroke-width="0" opacity="0.3"/>
</g>
<rect x="3.4" y="434.1" width="176.6" height="38.2" fill="none" stroke="#111" stroke-width="1.5" />
<rect x="3.4" y="475.6" width="176.6" height="38.3" fill="none" stroke="#111" stroke-width="1.5" />
<rect x="3.4" y="516.6" width="176.6" height="38.9" fill="none" stroke="#111" stroke-width="1.5" />
<rect x="188.4" y="434.1" width="176.6" height="38.2" fill="none" stroke="#111" stroke-width="1.5" />
<rect x="188.4" y="475.6" width="176.6" height="38.3" fill="none" stroke="#111" stroke-width="1.5" />
<rect x="188.4" y="516.6" width="176.6" height="38.9" fill="none" stroke="#111" stroke-width="1.5" />
<line x1="486.4" y1="416.1" x2="486.4" y2="533.3" stroke="#8a8a8a" stroke-width="1"/>
<line x1="486.4" y1="533.3" x2="701" y2="533.3" stroke="#bbb" stroke-width="1.3"/>
<line x1="484.4" y1="424.6" x2="486.4" y2="424.6" stroke="#bbb" stroke-width="0.8"/>
<line x1="484.4" y1="446.2" x2="486.4" y2="446.2" stroke="#bbb" stroke-width="0.8"/>
<line x1="484.4" y1="468.4" x2="486.4" y2="468.4" stroke="#bbb" stroke-width="0.8"/>
<line x1="484.4" y1="490.2" x2="486.4" y2="490.2" stroke="#bbb" stroke-width="0.8"/>
<line x1="484.4" y1="511.3" x2="486.4" y2="511.3" stroke="#bbb" stroke-width="0.8"/>
<line x1="483" y1="533.4" x2="486.4" y2="533.4" stroke="#bbb" stroke-width="0.8"/>
<text x="481.6" y="432.4" font-size="18" text-anchor="end" font-weight="normal" font-style="normal" fill="#111" >12.5</text>
<text x="481.6" y="453.3" font-size="18" text-anchor="end" font-weight="normal" font-style="normal" fill="#111" >10.0</text>
<text x="481.6" y="475.5" font-size="18" text-anchor="end" font-weight="normal" font-style="normal" fill="#111" >7.5</text>
<text x="481.6" y="497.1" font-size="18" text-anchor="end" font-weight="normal" font-style="normal" fill="#111" >5.0</text>
<text x="481.6" y="517.7" font-size="18" text-anchor="end" font-weight="normal" font-style="normal" fill="#111" >2.5</text>
<text x="481.6" y="541.6" font-size="18" text-anchor="end" font-weight="normal" font-style="normal" fill="#111" >0</text>
<g transform="translate(441.8,554.2) rotate(-90)"><text x="0" y="0" font-size="19.5" fill="#111" textLength="145" lengthAdjust="spacingAndGlyphs">Mean Protein Level</text></g>
<rect x="493.2" y="523.0" width="18.7" height="10.3" fill="#5b8dd4" stroke="none" stroke-width="0" />
<line x1="502.54999999999995" y1="518.3" x2="502.54999999999995" y2="528.6" stroke="#111" stroke-width="1.2"/>
<line x1="500.04999999999995" y1="518.3" x2="505.04999999999995" y2="518.3" stroke="#111" stroke-width="1.4"/>
<line x1="500.04999999999995" y1="528.6" x2="505.04999999999995" y2="528.6" stroke="#111" stroke-width="1.4"/>
<rect x="513.9" y="529.3" width="18.6" height="4.0" fill="#5b8dd4" stroke="none" stroke-width="0" />
<line x1="523.2" y1="526.3" x2="523.2" y2="530.8" stroke="#111" stroke-width="1.2"/>
<line x1="520.7" y1="526.3" x2="525.7" y2="526.3" stroke="#111" stroke-width="1.4"/>
<line x1="520.7" y1="530.8" x2="525.7" y2="530.8" stroke="#111" stroke-width="1.4"/>
<rect x="548.1" y="524.9" width="18.7" height="8.4" fill="#5b8dd4" stroke="none" stroke-width="0" />
<line x1="557.45" y1="522.9" x2="557.45" y2="527.5" stroke="#111" stroke-width="1.2"/>
<line x1="554.95" y1="522.9" x2="559.95" y2="522.9" stroke="#111" stroke-width="1.4"/>
<line x1="554.95" y1="527.5" x2="559.95" y2="527.5" stroke="#111" stroke-width="1.4"/>
<rect x="568.8" y="524.1" width="18.8" height="9.2" fill="#5b8dd4" stroke="none" stroke-width="0" />
<line x1="578.2" y1="521.2" x2="578.2" y2="526.6" stroke="#111" stroke-width="1.2"/>
<line x1="575.7" y1="521.2" x2="580.7" y2="521.2" stroke="#111" stroke-width="1.4"/>
<line x1="575.7" y1="526.6" x2="580.7" y2="526.6" stroke="#111" stroke-width="1.4"/>
<rect x="606.8" y="511.7" width="18.6" height="21.6" fill="#de2a1e" stroke="none" stroke-width="0" />
<line x1="616.0999999999999" y1="488.4" x2="616.0999999999999" y2="535.7" stroke="#555" stroke-width="1.2"/>
<line x1="613.5999999999999" y1="488.4" x2="618.5999999999999" y2="488.4" stroke="#555" stroke-width="1.4"/>
<line x1="613.5999999999999" y1="535.7" x2="618.5999999999999" y2="535.7" stroke="#555" stroke-width="1.4"/>
<rect x="629.2" y="518.9" width="18.4" height="14.4" fill="#de2a1e" stroke="none" stroke-width="0" />
<line x1="638.4000000000001" y1="509.6" x2="638.4000000000001" y2="529.0" stroke="#111" stroke-width="1.2"/>
<line x1="635.9000000000001" y1="509.6" x2="640.9000000000001" y2="509.6" stroke="#111" stroke-width="1.4"/>
<line x1="635.9000000000001" y1="529.0" x2="640.9000000000001" y2="529.0" stroke="#111" stroke-width="1.4"/>
<rect x="661.0" y="480.5" width="18.8" height="52.8" fill="#de2a1e" stroke="none" stroke-width="0" />
<line x1="670.4" y1="443.2" x2="670.4" y2="517.6" stroke="#111" stroke-width="1.2"/>
<line x1="667.9" y1="443.2" x2="672.9" y2="443.2" stroke="#111" stroke-width="1.4"/>
<line x1="667.9" y1="517.6" x2="672.9" y2="517.6" stroke="#111" stroke-width="1.4"/>
<rect x="682.2" y="525.1" width="18.3" height="8.2" fill="#de2a1e" stroke="none" stroke-width="0" />
<line x1="691.35" y1="523.3" x2="691.35" y2="525.9" stroke="#111" stroke-width="1.2"/>
<line x1="688.85" y1="523.3" x2="693.85" y2="523.3" stroke="#111" stroke-width="1.4"/>
<line x1="688.85" y1="525.9" x2="693.85" y2="525.9" stroke="#111" stroke-width="1.4"/>
<line x1="677.00" y1="432.27" x2="677.00" y2="438.53" stroke="#2a2a2a" stroke-width="1.15" stroke-linecap="round"/>
<line x1="674.64" y1="433.84" x2="679.36" y2="436.96" stroke="#2a2a2a" stroke-width="1.15" stroke-linecap="round"/>
<line x1="679.36" y1="433.84" x2="674.64" y2="436.96" stroke="#2a2a2a" stroke-width="1.15" stroke-linecap="round"/>
<line x1="684.80" y1="432.27" x2="684.80" y2="438.53" stroke="#2a2a2a" stroke-width="1.15" stroke-linecap="round"/>
<line x1="682.44" y1="433.84" x2="687.16" y2="436.96" stroke="#2a2a2a" stroke-width="1.15" stroke-linecap="round"/>
<line x1="687.16" y1="433.84" x2="682.44" y2="436.96" stroke="#2a2a2a" stroke-width="1.15" stroke-linecap="round"/>
<text x="489.3" y="547.0" font-size="13" text-anchor="start" font-weight="normal" font-style="normal" fill="#111" textLength="17.8" lengthAdjust="spacingAndGlyphs" >WT</text>
<text x="515.9" y="547.0" font-size="13" text-anchor="start" font-weight="normal" font-style="normal" fill="#111" textLength="17.5" lengthAdjust="spacingAndGlyphs" >OB</text>
<text x="548.6" y="547.0" font-size="13" text-anchor="start" font-weight="normal" font-style="normal" fill="#111" textLength="18.7" lengthAdjust="spacingAndGlyphs" >WT</text>
<text x="574.9" y="547.0" font-size="13" text-anchor="start" font-weight="normal" font-style="normal" fill="#111" textLength="17.0" lengthAdjust="spacingAndGlyphs" >OB</text>
<text x="608.6" y="547.0" font-size="13" text-anchor="start" font-weight="normal" font-style="normal" fill="#111" textLength="19.6" lengthAdjust="spacingAndGlyphs" >WT</text>
<text x="636.0" y="547.0" font-size="13" text-anchor="start" font-weight="normal" font-style="normal" fill="#111" textLength="16.7" lengthAdjust="spacingAndGlyphs" >OB</text>
<text x="661.8" y="547.0" font-size="13" text-anchor="start" font-weight="normal" font-style="normal" fill="#111" textLength="19.9" lengthAdjust="spacingAndGlyphs" >WT</text>
<text x="689.4" y="547.0" font-size="13" text-anchor="start" font-weight="normal" font-style="normal" fill="#111" textLength="16.8" lengthAdjust="spacingAndGlyphs" >OB</text>
<text x="490.2" y="562.3" font-size="17.5" text-anchor="start" font-weight="normal" font-style="normal" fill="#111" textLength="40.6" lengthAdjust="spacingAndGlyphs" >Acta2</text>
<text x="541.4" y="562.3" font-size="17.5" text-anchor="start" font-weight="normal" font-style="normal" fill="#111" textLength="49.6" lengthAdjust="spacingAndGlyphs" >Col6a1</text>
<text x="605.0" y="562.3" font-size="17.5" text-anchor="start" font-weight="normal" font-style="normal" fill="#111" textLength="41.3" lengthAdjust="spacingAndGlyphs" >Acta2</text>
<text x="655.8" y="562.3" font-size="17.5" text-anchor="start" font-weight="normal" font-style="normal" fill="#111" textLength="50.4" lengthAdjust="spacingAndGlyphs" >Col6a1</text>
</svg></body></html>
